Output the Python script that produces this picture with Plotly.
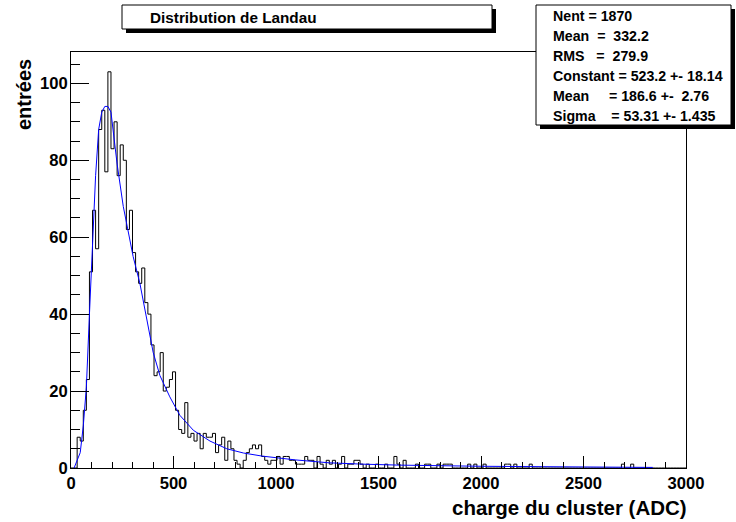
import numpy as np
import plotly.graph_objects as go

# ---------------- data ----------------
bin_low = 0.0
bin_high = 3000.0
n_bins = 200

counts = [
    0, 0, 8, 7, 15, 23, 51, 67, 57, 88,
    93, 77, 103, 83, 90, 76, 84, 80, 62, 67,
    56, 51, 48, 52, 43, 40, 32, 24, 25, 30,
    20, 21, 23, 25, 15, 10, 9, 17, 8, 9,
    7, 9, 5, 9, 8, 8, 9, 4, 6, 8,
    2, 7, 5, 2, 1, 0, 2, 4, 5, 6,
    5, 6, 3, 2, 1, 2, 2, 3, 1, 3,
    3, 2, 2, 1, 1, 1, 3, 2, 2, 0,
    3, 1, 0, 2, 1, 2, 0, 1, 3, 0,
    1, 1, 2, 2, 1, 0, 1, 0, 0, 1,
    0, 0, 1, 0, 0, 3, 1, 0, 2, 0,
    0, 0, 1, 0, 0, 1, 1, 0, 0, 1,
    0, 1, 1, 1, 0, 0, 0, 0, 0, 1,
    0, 1, 0, 0, 1, 0, 0, 0, 0, 0,
    0, 1, 1, 0, 1, 0, 0, 0, 0, 1,
    0, 0, 0, 0, 0, 0, 0, 0, 0, 0,
    0, 0, 0, 0, 0, 0, 0, 0, 0, 0,
    0, 0, 0, 0, 0, 0, 0, 0, 0, 1,
    0, 0, 1, 0, 0, 0, 0, 0, 0, 0,
    0, 0, 0, 0, 0, 0, 0, 0, 0, 0,
]

fit_x = [15, 45, 60, 75, 90, 105, 120, 135, 150, 165, 180, 195, 225, 255,
         287, 303, 336, 369, 401, 434, 482, 531, 597, 678, 760, 841, 932,
         1095, 1258, 1421, 1600, 2000, 2331, 2838]
fit_y = [0, 4, 11, 21, 40, 59, 76, 88, 92.5, 94, 94, 92.5, 79, 68,
         59, 55, 48, 39, 30, 24, 18.5, 13.7, 9.8, 7, 5, 3.9, 3.1,
         2.1, 1.35, 1.0, 0.75, 0.45, 0.3, 0.15]

x_ticks = [0, 500, 1000, 1500, 2000, 2500, 3000]
y_ticks = [0, 20, 40, 60, 80, 100]
y_max = 108.15

title_text = "Distribution de Landau"
x_title = "charge du cluster (ADC)"
y_title = "entrées"
stats_lines = [
    "Nent = 1870",
    "Mean  =  332.2",
    "RMS   =  279.9",
    "Constant = 523.2 +- 18.14",
    "Mean     = 186.6 +-  2.76",
    "Sigma    = 53.31 +- 1.435",
]

# ---------------- figure ----------------
edges = np.linspace(bin_low, bin_high, n_bins + 1)
step_x = list(edges)
step_y = list(counts) + [counts[-1]]

FONT = "Liberation Sans, Arial, Helvetica, sans-serif"
L, R, T, B = 71, 686, 52, 468
W, H = R - L, B - T
FW, FH = 736, 522


def px(x):
    return (x - L) / W


def py(y):
    return (B - y) / H


fig = go.Figure()
fig.add_trace(go.Scatter(
    x=step_x, y=step_y, mode="lines", line=dict(color="black", width=1, shape="hv"),
    hoverinfo="skip", showlegend=False))
fig.add_trace(go.Scatter(
    x=fit_x, y=fit_y, mode="lines", line=dict(color="#0000ff", width=1),
    hoverinfo="skip", showlegend=False))

tickfont = dict(family=FONT, size=16.6, color="black", weight="bold")

fig.update_xaxes(
    range=[bin_low, bin_high], tickvals=x_ticks, ticktext=[str(v) for v in x_ticks],
    ticks="inside", ticklen=12, tickwidth=1, tickcolor="black",
    minor=dict(dtick=100, ticks="inside", ticklen=6, tickwidth=1, tickcolor="black", showgrid=False),
    showline=True, linecolor="black", linewidth=1, mirror=True,
    showgrid=False, zeroline=False, tickfont=tickfont, ticklabelstandoff=0,
)
fig.update_yaxes(
    range=[0, y_max], tickvals=y_ticks, ticktext=[str(v) for v in y_ticks],
    ticks="inside", ticklen=18, tickwidth=1, tickcolor="black",
    minor=dict(dtick=5, ticks="inside", ticklen=9, tickwidth=1, tickcolor="black", showgrid=False),
    showline=True, linecolor="black", linewidth=1, mirror=True,
    showgrid=False, zeroline=False, tickfont=tickfont, ticklabelstandoff=-1,
)

shapes = []


def box(x0, y0, x1, y1, sh=4):
    shapes.append(dict(type="rect", xref="paper", yref="paper",
                       x0=px(x0 + sh), x1=px(x1 + sh), y0=py(y1 + sh), y1=py(y0 + sh),
                       fillcolor="black", line=dict(width=0), layer="above"))
    shapes.append(dict(type="rect", xref="paper", yref="paper",
                       x0=px(x0), x1=px(x1), y0=py(y1), y1=py(y0),
                       fillcolor="white", line=dict(color="black", width=1), layer="above"))


STATS_TOP, STATS_BOT = 5, 125
box(122, 5, 492, 29)
box(536, STATS_TOP, 731, STATS_BOT)

annotations = []
annotations.append(dict(text=title_text, xref="paper", yref="paper", x=px(148), y=py(17.5),
                        xanchor="left", yanchor="middle", showarrow=False,
                        font=dict(family=FONT, size=15.3, color="black", weight="bold")))
row_h = (STATS_BOT - STATS_TOP) / len(stats_lines)
for i, line in enumerate(stats_lines):
    annotations.append(dict(text=line.replace(" ", "\u00a0"), xref="paper", yref="paper",
                            x=px(551), y=py(STATS_TOP + row_h * (i + 0.5) + 1),
                            xanchor="left", yanchor="middle", showarrow=False,
                            font=dict(family=FONT, size=14.2, color="black", weight="bold")))
annotations.append(dict(text=x_title, xref="paper", yref="paper", x=px(689), y=py(507),
                        xanchor="right", yanchor="middle", showarrow=False,
                        font=dict(family=FONT, size=20.5, color="black", weight="bold")))
annotations.append(dict(text=y_title, xref="paper", yref="paper", x=px(24.5), y=py(57),
                        xanchor="center", yanchor="top", showarrow=False, textangle=-90,
                        font=dict(family=FONT, size=20, color="black", weight="bold")))

fig.update_layout(
    width=FW, height=FH,
    margin=dict(l=L, r=FW - R, t=T, b=FH - B, pad=0),
    paper_bgcolor="white", plot_bgcolor="white",
    shapes=shapes, annotations=annotations, showlegend=False,
)

fig.write_html("out.html", config={"displayModeBar": False, "staticPlot": True},
               post_script="document.body.style.margin='0';document.body.style.padding='0';")
